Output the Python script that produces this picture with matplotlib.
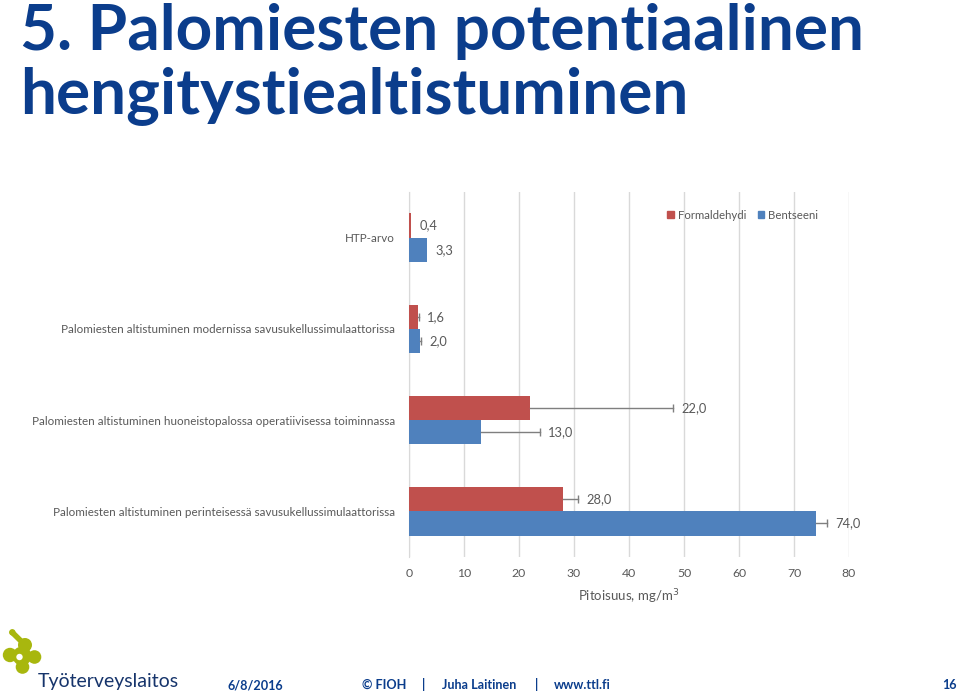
import numpy as np
import matplotlib.pyplot as plt
from matplotlib.patches import Circle, Patch

# === Données ===
categories = [
    "HTP-arvo",
    "Palomiesten altistuminen modernissa savusukellussimulaattorissa",
    "Palomiesten altistuminen huoneistopalossa operatiivisessa toiminnassa",
    "Palomiesten altistuminen perinteisessä savusukellussimulaattorissa",
]
formaldehydi = [0.4, 1.6, 22.0, 28.0]
bentseeni = [3.3, 2.0, 13.0, 74.0]
err_formaldehydi = [0.0, 0.2, 26.0, 2.7]
err_bentseeni = [0.0, 0.2, 10.8, 2.0]
has_err = [False, True, True, True]
xticks = [0, 10, 20, 30, 40, 50, 60, 70, 80]

red = "#C0504D"
blue = "#4F81BD"
grey_txt = "#595959"
navy = "#0B3D8C"
font = "Lato"

plt.rcParams["font.family"] = [font, "DejaVu Sans"]

fig = plt.figure(figsize=(9.6, 6.95), dpi=100)
W, H = 960, 695

# === Graphique ===
ax = fig.add_axes([409 / W, 1 - 557 / H, 440 / W, 365 / H])
y = np.arange(len(categories))
h = 0.265

ax.barh(y - h / 2, formaldehydi, height=h, color=red, zorder=3)
ax.barh(y + h / 2, bentseeni, height=h, color=blue, zorder=3)

for i in range(len(categories)):
    for val, err, yy in [(formaldehydi[i], err_formaldehydi[i], y[i] - h / 2),
                         (bentseeni[i], err_bentseeni[i], y[i] + h / 2)]:
        if has_err[i]:
            # barre d'erreur positive, trait seulement au bout
            ax.plot([val, val + err], [yy, yy], color="#7f7f7f", lw=1, zorder=4)
            ax.plot([val + err], [yy], marker="|", ms=6, mew=1, color="#7f7f7f", zorder=4)
        ax.annotate(f"{val:.1f}".replace(".", ","), (val + err, yy),
                    xytext=(6, 0), textcoords="offset points",
                    va="center", ha="left", fontsize=9.3, color=grey_txt)

ax.set_xlim(0, 80)
ax.set_ylim(len(categories) - 0.5, -0.5)
ax.set_xticks(xticks)
ax.set_yticks(y)
ax.set_yticklabels(categories)
ax.tick_params(axis="both", length=0, colors=grey_txt, labelsize=8.8)
ax.tick_params(axis="y", pad=10, labelsize=8.4)
ax.tick_params(axis="x", pad=8)
ax.grid(axis="x", color="#D9D9D9", linewidth=1, zorder=0)
for s in ["top", "right", "bottom"]:
    ax.spines[s].set_visible(False)
ax.spines["left"].set_color("#D9D9D9")
ax.set_xlabel("Pitoisuus, mg/m$^3$", color=grey_txt, fontsize=9.5, labelpad=6)

handles = [Patch(color=red, label="Formaldehydi"), Patch(color=blue, label="Bentseeni")]
fig.legend(handles=handles, loc="center right", bbox_to_anchor=(828 / W, 1 - 215 / H),
           ncol=2, frameon=False, fontsize=8.2, handlelength=0.6, handleheight=0.6,
           handletextpad=0.3, columnspacing=1.0, labelcolor=grey_txt)

# === Titre ===
fig.text(20 / W, 1 - 50 / H, "5. Palomiesten potentiaalinen", fontsize=46,
         fontweight="bold", color=navy, va="baseline", ha="left")
fig.text(20 / W, 1 - 113 / H, "hengitystiealtistuminen", fontsize=46,
         fontweight="bold", color=navy, va="baseline", ha="left")

# === Pied de page ===
ov = fig.add_axes([0, 0, 1, 1], zorder=-1)
ov.set_xlim(0, W)
ov.set_ylim(H, 0)
ov.axis("off")
green = "#A8B70E"
ov.plot([12.3, 24], [632.5, 644], color=green, lw=4, solid_capstyle="round")
for cx, cy, r in [(12.3, 632.3, 3.2), (25, 645, 7), (10, 655, 7.2), (34.5, 657, 6.8),
                  (22.5, 667, 6.8), (22, 656, 9.5)]:
    ov.add_patch(Circle((cx, cy), r, color=green, lw=0))
ov.add_patch(Circle((19.5, 657), 3.2, color="white", lw=0))

ov.text(38, 687, "Työterveyslaitos", fontsize=14, color="#16346B", va="baseline", ha="left")
foot = dict(fontsize=9.1, color=navy, fontweight="bold", va="baseline")
ov.text(228, 689, "6/8/2016", ha="left", **foot)
ov.text(362, 689, "© FIOH", ha="left", **foot)
ov.text(424, 689, "|", ha="center", **foot)
ov.text(442, 689, "Juha Laitinen", ha="left", **foot)
ov.text(537, 689, "|", ha="center", **foot)
ov.text(554, 689, "www.ttl.fi", ha="left", **foot)
ov.text(957, 689, "16", ha="right", **foot)

plt.savefig("out.png", dpi=100)
